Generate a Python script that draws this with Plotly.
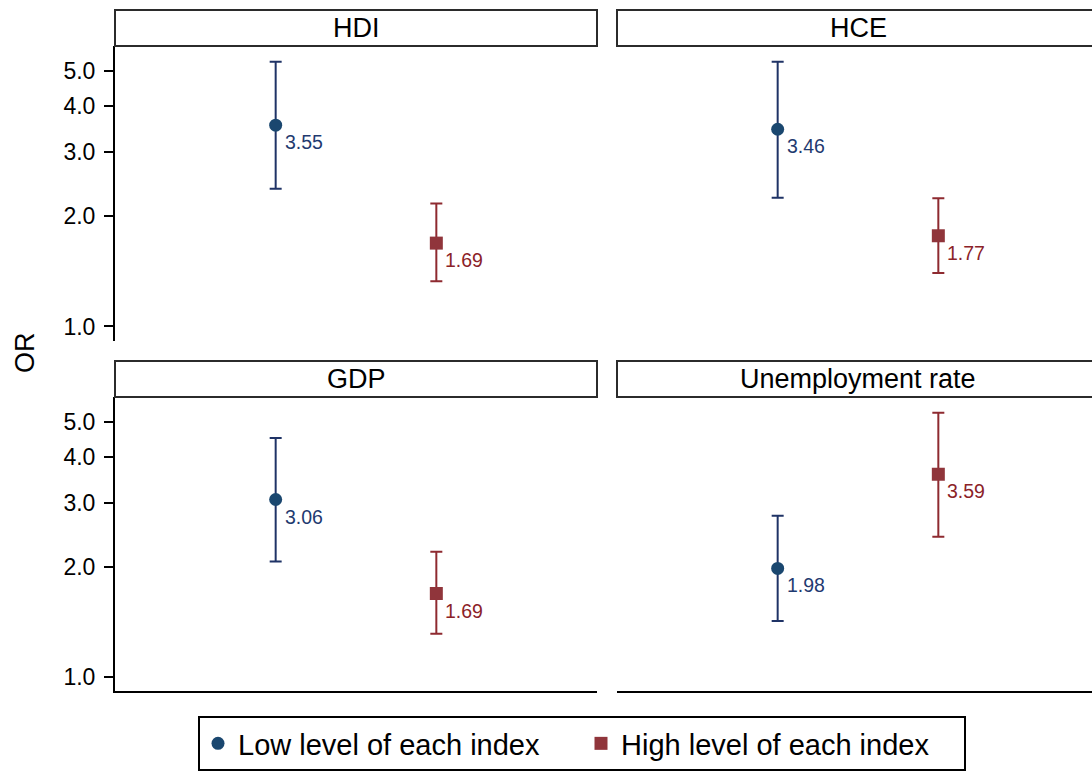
import math
import plotly.graph_objects as go

# Odds ratios (with 95% CI) by level of each socioeconomic index
panels = ["HDI", "HCE", "GDP", "Unemployment rate"]
groups = ["Low level of each index", "High level of each index"]

low_or = [3.55, 3.46, 3.06, 1.98]
low_lo = [2.38, 2.25, 2.07, 1.42]
low_hi = [5.29, 5.29, 4.51, 2.76]

high_or = [1.69, 1.77, 1.69, 3.59]
high_lo = [1.33, 1.40, 1.31, 2.42]
high_hi = [2.17, 2.24, 2.20, 5.29]

y_ticks = [1, 2, 3, 4, 5]
y_ticktext = ["1.0", "2.0", "3.0", "4.0", "5.0"]

W, H = 1092, 771
FONT = "Liberation Sans, Arial, sans-serif"

NAVY_MK, NAVY_LN, NAVY_TX = "#1a476f", "#1f3366", "#1f3a70"
MAR_MK, MAR_LN, MAR_TX = "#90353b", "#8e2a30", "#8b2228"


def px_x(p):
    return p / W


def px_y(p):
    return 1 - p / H


# panel geometry in pixels: (x0, x1) columns and (top, bottom) rows
cols = [(115, 597), (617, 1092)]
rows = [(46, 342), (398, 693)]
headers = [(10, 46), (362, 398)]
unit = (597 - 115) / 3.0  # pixels per category step

fig = go.Figure()

series = [
    (groups[0], low_or, low_lo, low_hi, 1, "circle", NAVY_MK, NAVY_LN, NAVY_TX),
    (groups[1], high_or, high_lo, high_hi, 2, "square", MAR_MK, MAR_LN, MAR_TX),
]

for i, name in enumerate(panels):
    r, c = divmod(i, 2)
    ax = "" if i == 0 else str(i + 1)
    xa, ya = "x" + ax, "y" + ax
    x0, x1 = cols[c]
    top, bot = rows[r]

    for (sname, est, lo, hi, xpos, sym, mk, ln, tx) in series:
        fig.add_trace(go.Scatter(
            x=[xpos], y=[est[i]],
            xaxis=xa, yaxis=ya,
            mode="markers",
            name=sname,
            legendgroup=sname,
            showlegend=(i == 0),
            marker=dict(symbol=sym, size=13, color=mk, line=dict(width=0)),
            error_y=dict(type="data", symmetric=False,
                         array=[hi[i] - est[i]], arrayminus=[est[i] - lo[i]],
                         color=ln, thickness=2, width=6),
        ))
        # value label; annotation y on a log axis is given in log10 units
        fig.add_annotation(
            x=xpos, y=math.log10(est[i]), xref=xa, yref=ya,
            text=f"{est[i]:.2f}", showarrow=False,
            xanchor="left", yanchor="middle", xshift=7, yshift=-17,
            font=dict(family=FONT, size=19.5, color=tx),
        )

    xrange_max = (x1 - x0) / unit
    fig.layout["xaxis" + ax] = dict(
        domain=[px_x(x0), px_x(x1)], range=[0, xrange_max],
        anchor=ya, showgrid=False, zeroline=False,
        showticklabels=False, ticks="",
        showline=(r == 1), linecolor="black", linewidth=2,
    )
    fig.layout["yaxis" + ax] = dict(
        domain=[px_y(bot), px_y(top)], type="log",
        range=[-0.04, 0.767], anchor=xa,
        showgrid=False, zeroline=False,
        showline=(c == 0), linecolor="black", linewidth=2,
        showticklabels=(c == 0), ticks="outside" if c == 0 else "",
        ticklen=9, tickwidth=2, tickcolor="black",
        tickvals=y_ticks, ticktext=y_ticktext,
        tickfont=dict(family=FONT, size=23, color="black"),
        ticklabelstandoff=4,
    )

    # facet header box with title
    h_top, h_bot = headers[r]
    hx1 = x1 if c == 0 else 1.02 * W
    fig.add_shape(type="rect", xref="paper", yref="paper",
                  x0=px_x(x0), x1=hx1 / W, y0=px_y(h_bot), y1=px_y(h_top),
                  line=dict(color="#2b2b2b", width=2), fillcolor="white")
    fig.add_annotation(
        x=px_x((x0 + x0 + 482) / 2), y=px_y((h_top + h_bot) / 2),
        xref="paper", yref="paper", text=name, showarrow=False,
        xanchor="center", yanchor="middle",
        font=dict(family=FONT, size=27, color="black"),
    )

# shared y-axis title
fig.add_annotation(
    x=px_x(25), y=px_y(354), xref="paper", yref="paper",
    text="OR", textangle=-90, showarrow=False,
    xanchor="center", yanchor="middle",
    font=dict(family=FONT, size=27, color="black"),
)

fig.update_layout(
    width=W, height=H,
    margin=dict(l=0, r=0, t=0, b=0),
    paper_bgcolor="white", plot_bgcolor="white",
    showlegend=True,
    legend=dict(
        orientation="h", x=px_x(198), xanchor="left",
        y=px_y(718), yanchor="top",
        bordercolor="black", borderwidth=2,
        font=dict(family=FONT, size=29, color="black"),
        entrywidth=338, entrywidthmode="pixels",
        itemsizing="trace", tracegroupgap=0,
    ),
)

fig.write_html("out.html")
